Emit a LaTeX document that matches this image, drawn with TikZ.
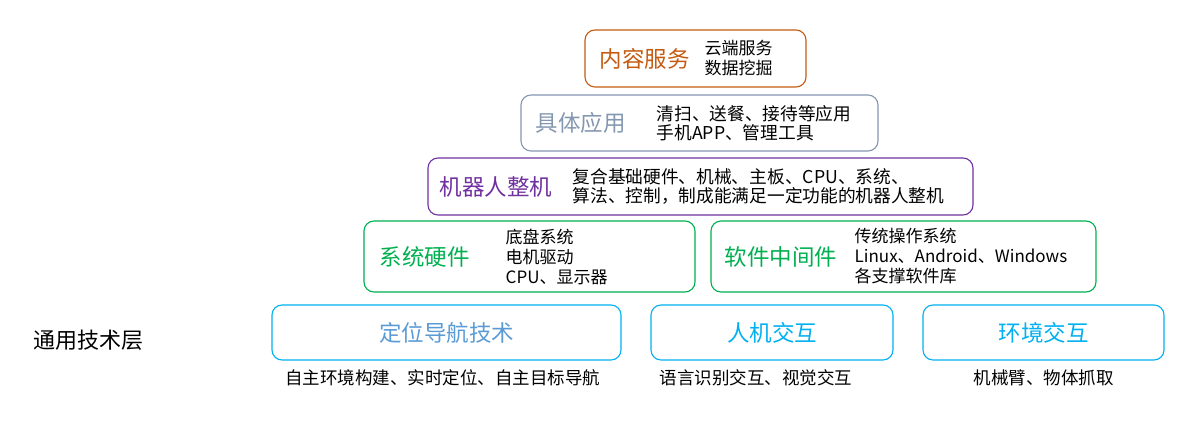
\documentclass[tikz,border=0pt]{standalone}
\usepackage{fontspec}
\setmainfont{Noto Sans CJK SC}
\usetikzlibrary{positioning}
\definecolor{neirong}{HTML}{C55A11}
\definecolor{yingyong}{HTML}{8497B0}
\definecolor{zhengji}{HTML}{7030A0}
\definecolor{yingjian}{HTML}{00B050}
\definecolor{tongyong}{HTML}{00B0F0}
\definecolor{daohang}{HTML}{5B9BD5}

\begin{document}
\begin{tikzpicture}[x=1pt,y=-1pt]
\tikzset{ceng/.style={draw, rounded corners=10pt, line width=1.1pt, inner sep=0pt},
  biaoti/.style={font=\fontsize{22.5}{26}\selectfont, inner sep=0pt},
  shuoming/.style={font=\fontsize{17}{20}\selectfont, align=left, inner sep=0pt, anchor=west},
  dashuoming/.style={shuoming, font=\fontsize{17.7}{19.5}\selectfont},
  biaozhu/.style={font=\fontsize{17.5}{20}\selectfont, inner sep=0pt}}
\useasboundingbox (0,0) rectangle (1200,425);
% top layers
\node[ceng, neirong, minimum width=221pt, minimum height=57pt] (B1) at (695.5,58.5) {};
\node[biaoti, text=neirong, anchor=west, right=15pt of B1.west] (T1) {内容服务};
\node[shuoming, right=120pt of B1.west] (S1) {云端服务\\数据挖掘};
\node[ceng, yingyong, minimum width=357pt, minimum height=56pt] (B2) at (699.5,123) {};
\node[biaoti, text=yingyong, anchor=west, right=15pt of B2.west] (T2) {具体应用};
\node[dashuoming, right=136pt of B2.west] (S2) {清扫、送餐、接待等应用\\手机APP、管理工具};
\node[ceng, zhengji, minimum width=545pt, minimum height=57pt] (B3) at (700.5,186.5) {};
\node[biaoti, text=zhengji, anchor=west, right=12pt of B3.west] (T3) {机器人整机};
\node[dashuoming, right=145pt of B3.west] (S3) {复合基础硬件、机械、主板、CPU、系统、\\算法、控制，制成能满足一定功能的机器人整机};
% hardware and software
\node[ceng, yingjian, minimum width=331pt, minimum height=71pt] (B4) at (529.5,256.5) {};
\node[biaoti, text=yingjian, anchor=west, right=16pt of B4.west] (T4) {系统硬件};
\node[shuoming, right=142pt of B4.west] (S4) {底盘系统\\电机驱动\\CPU、显示器};
\node[ceng, yingjian, minimum width=385pt, minimum height=71pt] (B5) at (903.5,256.5) {};
\node[biaoti, text=yingjian, anchor=west, right=14pt of B5.west] (T5) {软件中间件};
\node[shuoming, right=144pt of B5.west] (S5) {传统操作系统\\Linux、Android、Windows\\各支撑软件库};
% common technology layer
\node[ceng, tongyong, minimum width=349pt, minimum height=55pt] (C1) at (446.5,332.5) {};
\node[biaoti, text=daohang] at (C1) (U1) {定位导航技术};
\node[biaozhu, below=9pt of C1, xshift=-4pt] (L1) {自主环境构建、实时定位、自主目标导航};
\node[ceng, tongyong, minimum width=242pt, minimum height=55pt] (C2) at (772,332.5) {};
\node[biaoti, text=tongyong] at (C2) (U2) {人机交互};
\node[biaozhu, below=9pt of C2, xshift=-16pt] (L2) {语言识别交互、视觉交互};
\node[ceng, tongyong, minimum width=241pt, minimum height=55pt] (C3) at (1043.5,332.5) {};
\node[biaoti, text=tongyong] at (C3) (U3) {环境交互};
\node[biaozhu, below=9pt of C3] (L3) {机械臂、物体抓取};
\node[biaoti, font=\fontsize{22}{24}\selectfont] (Z) at (89,340) {通用技术层};
\end{tikzpicture}
\end{document}
